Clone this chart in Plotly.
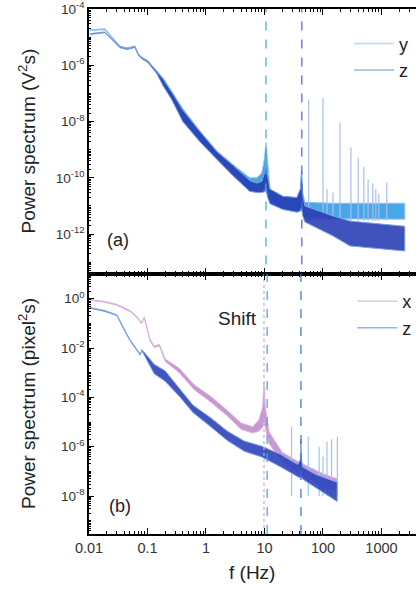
import plotly.graph_objects as go

# ---------------- data ----------------
# Panel (a): power spectrum (V^2 s); bands given as upper / lower envelopes
a_y_f  = [0.0104, 0.0188, 0.034, 0.045, 0.061, 0.070, 0.084, 0.10, 0.145, 0.184, 0.26, 0.40, 0.79, 1.54, 2.88, 5.6, 7.4, 9.0, 10.0, 10.6, 11.3, 12.4, 20.6, 35.7, 41.0, 43.0, 45.0, 49.0, 150, 2500]
a_y_hi = [1.85e-5, 2.0e-5, 4.8e-6, 4.2e-6, 4.9e-6, 2.5e-6, 1.85e-6, 1.5e-6, 6.2e-7, 3.6e-7, 1.2e-7, 2.9e-8, 4.6e-9, 9.0e-10, 3.0e-10, 1.0e-10, 1.0e-10, 1.5e-10, 5e-10, 1.8e-9, 4e-10, 4e-11, 2.2e-11, 2.0e-11, 4e-11, 1.7e-10, 3e-11, 1.35e-11, 1.25e-11, 1.25e-11]
a_y_lo = [1.75e-5, 1.85e-5, 4.4e-6, 3.9e-6, 4.5e-6, 2.3e-6, 1.7e-6, 1.35e-6, 5.2e-7, 2.0e-7, 6.5e-8, 1.1e-8, 2.0e-9, 4.8e-10, 1.3e-10, 3.5e-11, 3.2e-11, 3.2e-11, 5e-11, 1e-10, 3e-11, 1.3e-11, 8e-12, 6.5e-12, 7e-12, 1e-11, 5e-12, 3.5e-12, 3.4e-12, 3.4e-12]

a_z_f  = [0.0104, 0.0188, 0.034, 0.045, 0.061, 0.070, 0.084, 0.10, 0.145, 0.184, 0.26, 0.40, 0.79, 1.54, 2.88, 5.6, 7.4, 9.0, 10.0, 10.6, 11.3, 12.4, 20.6, 35.7, 41.0, 43.0, 45.0, 49.0, 150, 290, 2500]
a_z_hi = [1.35e-5, 1.55e-5, 4.6e-6, 4.0e-6, 4.7e-6, 2.4e-6, 1.75e-6, 1.45e-6, 6.0e-7, 3.3e-7, 1.1e-7, 2.6e-8, 4.4e-9, 8.5e-10, 2.8e-10, 8e-11, 6.5e-11, 7.5e-11, 1.5e-10, 3.2e-10, 1.2e-10, 4e-11, 2.2e-11, 2.0e-11, 4e-11, 1.7e-10, 2.5e-11, 1.0e-11, 4.4e-12, 2.9e-12, 1.9e-12]
a_z_lo = [1.25e-5, 1.45e-5, 4.2e-6, 3.7e-6, 4.3e-6, 2.2e-6, 1.6e-6, 1.3e-6, 5.0e-7, 1.9e-7, 6e-8, 1.0e-8, 1.9e-9, 4.5e-10, 1.2e-10, 3.3e-11, 3.0e-11, 3.0e-11, 3.2e-11, 4e-11, 2e-11, 1.2e-11, 7.5e-12, 6e-12, 6.5e-12, 9e-12, 4.5e-12, 2.7e-12, 8.5e-13, 3.8e-13, 2.5e-13]

a_spike_f   = [57, 100, 117, 148, 195, 300, 400, 500, 590, 710, 800, 900, 1230]
a_spike_top = [6e-8, 7e-8, 4e-11, 3e-11, 9.3e-9, 1.2e-9, 5.2e-10, 2.5e-10, 9e-11, 6.3e-11, 4e-11, 2.8e-11, 6.8e-11]

# Panel (b): power spectrum (pixel^2 s)
b_x_f  = [0.0104, 0.0188, 0.030, 0.050, 0.061, 0.079, 0.088, 0.11, 0.13, 0.16, 0.20, 0.35, 0.62, 1.2, 2.3, 4.0, 6.3, 8.0, 9.3, 9.8, 10.3, 12, 20, 40, 100, 175]
b_x_hi = [0.93, 0.77, 0.59, 0.33, 0.23, 0.108, 0.185, 0.023, 0.012, 0.014, 0.0036, 0.0015, 3.3e-4, 1.1e-4, 3.0e-5, 9.0e-6, 6.5e-6, 1.2e-5, 4e-5, 4e-4, 4e-5, 4e-6, 6e-7, 2.3e-7, 8e-8, 5e-8]
b_x_lo = [0.87, 0.71, 0.54, 0.30, 0.21, 0.098, 0.165, 0.020, 0.0105, 0.012, 0.0029, 0.0010, 2.1e-4, 6.5e-5, 1.8e-5, 5.0e-6, 3.6e-6, 4.2e-6, 6e-6, 1e-5, 5e-6, 1.3e-6, 2.5e-7, 8e-8, 2.2e-8, 1.5e-8]

b_z_f  = [0.0104, 0.0188, 0.030, 0.040, 0.050, 0.058, 0.075, 0.080, 0.10, 0.13, 0.20, 0.35, 0.6, 1.2, 2.3, 4.5, 9.0, 19, 37, 41, 42, 43, 45, 75, 175]
b_z_hi = [0.44, 0.33, 0.22, 0.058, 0.022, 0.0135, 0.0056, 0.0088, 0.0045, 0.0022, 1.2e-3, 2.4e-4, 4.8e-5, 1.5e-5, 4.3e-6, 1.7e-6, 1.05e-6, 4.8e-7, 1.9e-7, 3e-7, 2e-6, 3e-7, 1.5e-7, 7.5e-8, 3.6e-8]
b_z_lo = [0.41, 0.30, 0.205, 0.053, 0.020, 0.0122, 0.0051, 0.0079, 0.003, 0.0009, 4.5e-4, 1.1e-4, 2.4e-5, 6.5e-6, 1.8e-6, 6.5e-7, 3.8e-7, 1.5e-7, 6e-8, 5.5e-8, 6e-8, 5.5e-8, 4.8e-8, 2.1e-8, 6e-9]

b_spike_f   = [29, 56, 86, 100, 117, 140, 176]
b_spike_top = [6.6e-6, 2.6e-6, 1.0e-6, 4e-7, 1.6e-6, 2.0e-6, 2.5e-6]

# reference lines (Hz)
a_lines_f = [10.6, 43.5]
b_lines_f = [9.8, 11.1, 42.0]

x_tick_vals = [0.01, 0.1, 1, 10, 100, 1000]
x_tick_text = ["0.01", "0.1", "1", "10", "100", "1000"]

# ---------------- figure ----------------
FONT = "Liberation Sans, Arial, sans-serif"

fig = go.Figure()


def band(f, hi, lo, fill, edge, xa, ya):
    fig.add_trace(go.Scatter(
        x=list(f) + list(f)[::-1], y=list(hi) + list(lo)[::-1],
        fill="toself", fillcolor=fill, mode="lines",
        line=dict(color=edge, width=1),
        xaxis=xa, yaxis=ya, showlegend=False, hoverinfo="skip"))


def spikes(f, top, bottom, color, xa, ya, width=1.2):
    xs, ys = [], []
    for fi, ti in zip(f, top):
        xs += [fi, fi, None]
        ys += [bottom, ti, None]
    fig.add_trace(go.Scatter(x=xs, y=ys, mode="lines",
                             line=dict(color=color, width=width),
                             xaxis=xa, yaxis=ya, showlegend=False, hoverinfo="skip"))


def vline(f, color, dash, xa, ya, lo, hi):
    fig.add_trace(go.Scatter(x=[f, f], y=[lo, hi], mode="lines",
                             line=dict(color=color, width=1.2, dash=dash),
                             xaxis=xa, yaxis=ya, showlegend=False, hoverinfo="skip"))


# panel (a)
band(a_y_f, a_y_hi, a_y_lo, "rgba(52,158,228,0.9)", "#8cc4f0", "x", "y")
spikes(a_spike_f, a_spike_top, 3e-12, "#a9bdf0", "x", "y")
band(a_z_f, a_z_hi, a_z_lo, "rgba(38,58,178,0.88)", "#7e9fe6", "x", "y")
vline(a_lines_f[0], "#2ea8ea", "dash", "x", "y", 1e-15, 1e-2)
vline(a_lines_f[1], "#4a62d6", "dash", "x", "y", 1e-15, 1e-2)

# panel (b)
band(b_x_f, b_x_hi, b_x_lo, "rgba(182,118,194,0.75)", "#dcb6e2", "x2", "y2")
spikes(b_spike_f, b_spike_top, 1e-8, "#9ec6f0", "x2", "y2")
band(b_z_f, b_z_hi, b_z_lo, "rgba(44,68,186,0.9)", "#7fa8ea", "x2", "y2")
vline(b_lines_f[0], "#e59ad8", "dot", "x2", "y2", 1e-11, 1e2)
vline(b_lines_f[1], "#2ea8ea", "dash", "x2", "y2", 1e-11, 1e2)
vline(b_lines_f[2], "#3e68d8", "dash", "x2", "y2", 1e-11, 1e2)

# legends (legend-only entries)
for name, col, lg, xa, ya in [("y", "#b9d8f4", "legend", "x", "y"),
                              ("z", "#93b6ea", "legend", "x", "y"),
                              ("x", "#e6c4e6", "legend2", "x2", "y2"),
                              ("z", "#93b6ea", "legend2", "x2", "y2")]:
    fig.add_trace(go.Scatter(x=[None], y=[None], mode="lines", name=name,
                             line=dict(color=col, width=1.5), legend=lg,
                             xaxis=xa, yaxis=ya))

top_dom = [0.4952, 1.0]
bot_dom = [0.0, 0.4952]

minor_x = [m * 10 ** e for e in range(-2, 4) for m in range(2, 10)]

common_x = dict(type="log", range=[-2, 3.59], showline=True, linecolor="black",
                linewidth=1.6, mirror="ticks", ticks="inside", ticklen=6,
                tickwidth=1.3, tickcolor="black", showgrid=False, zeroline=False,
                tickvals=x_tick_vals, ticktext=x_tick_text,
                minor=dict(tickvals=minor_x, ticks="inside", ticklen=3,
                           tickwidth=1, tickcolor="black", showgrid=False),
                tickfont=dict(family=FONT, size=14.5, color="#333"))


def ylog_axis(label_exps, rng, dom, anchor):
    lo_exp = int(rng[0]) - 1
    hi_exp = int(round(rng[1]))
    vals = [10.0 ** e for e in label_exps]
    text = ["10<sup>%d</sup>" % e for e in label_exps]
    minor = [m * 10.0 ** e for e in range(lo_exp, hi_exp + 1) for m in range(1, 10)
             if not (m == 1 and e in label_exps)]
    return dict(type="log", range=rng, domain=dom, anchor=anchor, showline=True,
                linecolor="black", linewidth=1.6, ticks="inside", ticklen=5,
                tickwidth=1.3, tickcolor="black", showgrid=False, zeroline=False,
                tickvals=vals, ticktext=text, ticklabeloverflow="allow",
                minor=dict(tickvals=minor, ticks="inside", ticklen=2.5,
                           tickwidth=1, tickcolor="black", showgrid=False),
                tickfont=dict(family=FONT, size=13.5, color="#333"))


legend_font = dict(family=FONT, size=18, color="#222")

fig.update_layout(
    width=416, height=590,
    margin=dict(l=89, r=0, t=9, b=56, autoexpand=False),
    paper_bgcolor="white", plot_bgcolor="white",
    font=dict(family=FONT, color="#222"),
    xaxis=dict(common_x, anchor="y", showticklabels=False),
    xaxis2=dict(common_x, anchor="y2", matches="x"),
    yaxis=ylog_axis([-4, -6, -8, -10, -12], [-13.42, -3.995], top_dom, "x"),
    yaxis2=ylog_axis([0, -2, -4, -6, -8], [-9.54, 1.0], bot_dom, "x2"),
    legend=dict(x=0.795, y=0.969, xanchor="left", yanchor="top", bgcolor="rgba(0,0,0,0)",
                font=legend_font, itemwidth=40, tracegroupgap=0),
    legend2=dict(x=0.805, y=0.478, xanchor="left", yanchor="top", bgcolor="rgba(0,0,0,0)",
                 font=legend_font, itemwidth=40, tracegroupgap=0),
    annotations=[
        dict(text="Power spectrum (V<sup>2</sup>s)", xref="paper", yref="paper",
             x=0, xshift=-62, y=0.7476, textangle=-90, showarrow=False,
             xanchor="center", yanchor="middle", font=dict(family=FONT, size=19, color="#222")),
        dict(text="Power spectrum (pixel<sup>2</sup>s)", xref="paper", yref="paper",
             x=0, xshift=-62, y=0.2476, textangle=-90, showarrow=False,
             xanchor="center", yanchor="middle", font=dict(family=FONT, size=19, color="#222")),
        dict(text="f (Hz)", xref="paper", yref="paper", x=0.497, y=-0.074,
             showarrow=False, xanchor="center", yanchor="middle",
             font=dict(family=FONT, size=19, color="#222")),
        dict(text="(a)", xref="x domain", yref="y domain", x=0.089, y=0.128,
             showarrow=False, xanchor="center", yanchor="middle",
             font=dict(family=FONT, size=18, color="#222")),
        dict(text="(b)", xref="x2 domain", yref="y2 domain", x=0.095, y=0.108,
             showarrow=False, xanchor="center", yanchor="middle",
             font=dict(family=FONT, size=18, color="#222")),
        dict(text="Shift", xref="x2 domain", yref="y2 domain", x=0.453, y=0.827,
             showarrow=False, xanchor="center", yanchor="middle",
             font=dict(family=FONT, size=19, color="#222")),
    ],
)

# remove the browser's default 8 px page margin so the figure sits at the window corner
fig.write_html("out.html", config={"displayModeBar": False},
               post_script="document.body.style.margin='0';")
